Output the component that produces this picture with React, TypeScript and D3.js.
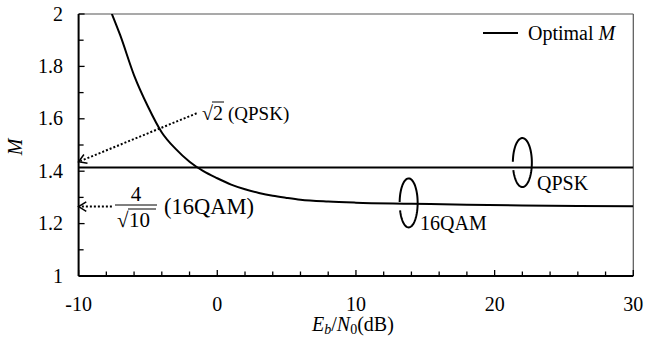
import React from "react";
import * as d3 from "d3";

const ebn0 = [-7.6, -7, -6, -5, -4, -3, -2, -1, 0, 1, 2, 3, 4, 5, 6, 8, 10, 14, 18, 22, 26, 30];
const optimalM = [2.0, 1.919, 1.766, 1.647, 1.548, 1.485, 1.436, 1.4, 1.373, 1.349, 1.331, 1.317, 1.306, 1.298, 1.291, 1.284, 1.28, 1.276, 1.272, 1.269, 1.267, 1.266];
const qpskX = [-10, 30];
const qpskM = [Math.SQRT2, Math.SQRT2];
const xTicks = [-10, 0, 10, 20, 30];
const yTicks = [1, 1.2, 1.4, 1.6, 1.8, 2];
const xMinor = d3.range(-10, 30.01, 2);
const yMinor = d3.range(1, 2.001, 0.1);

const W = 645, H = 338;
const L = 78.6, R = 633.3, T = 14, B = 276;
const FONT = '"Liberation Serif", "Times New Roman", serif';

export default function App() {
  const x = d3.scaleLinear().domain([-10, 30]).range([L, R]);
  const y = d3.scaleLinear().domain([1, 2]).range([B, T]);
  const line = d3.line<[number, number]>().x(d => x(d[0])).y(d => y(d[1])).curve(d3.curveMonotoneX);
  const curvePts = ebn0.map((e, i) => [e, optimalM[i]] as [number, number]);
  const qpskPts = qpskX.map((e, i) => [e, qpskM[i]] as [number, number]);

  const loop = (cxD: number, cyD: number, rx: number, ry: number) => {
    const cx = x(cxD), cy = y(cyD);
    const p = d3.path();
    const a0 = (182 * Math.PI) / 180, a1 = ((360 + 162) * Math.PI) / 180;
    const n = 80;
    for (let i = 0; i <= n; i++) {
      const a = a0 + ((a1 - a0) * i) / n;
      const px = cx + rx * Math.cos(a), py = cy + ry * Math.sin(a);
      if (i === 0) p.moveTo(px, py); else p.lineTo(px, py);
    }
    return p.toString();
  };

  const arrow = (tx: number, ty: number, fx: number, fy: number) => {
    const x1 = x(tx), y1 = y(ty), x0 = x(fx), y0 = y(fy);
    const ang = Math.atan2(y0 - y1, x0 - x1);
    const len = 9, spread = 0.55;
    const h1 = [x1 + len * Math.cos(ang + spread), y1 + len * Math.sin(ang + spread)];
    const h2 = [x1 + len * Math.cos(ang - spread), y1 + len * Math.sin(ang - spread)];
    return (
      <g>
        <line x1={x0} y1={y0} x2={x1 + 2 * Math.cos(ang)} y2={y1 + 2 * Math.sin(ang)} stroke="#000" strokeWidth={2} strokeDasharray="2,2" />
        <path d={`M${h1[0]},${h1[1]}L${x1},${y1}L${h2[0]},${h2[1]}`} fill="none" stroke="#000" strokeWidth={1.5} />
      </g>
    );
  };

  const ts = { fontFamily: FONT };

  return (
    <svg width={W} height={H} style={{ position: "absolute", left: 0, top: 0, background: "#fff", fontFamily: FONT }}>
      <defs>
        <clipPath id="plot"><rect x={L} y={T} width={R - L} height={B - T} /></clipPath>
      </defs>
      {/* frame */}
      <line x1={L} y1={T} x2={R} y2={T} stroke="#555" strokeWidth={1.2} />
      <line x1={R} y1={T} x2={R} y2={B} stroke="#555" strokeWidth={1.2} />
      <line x1={L} y1={T} x2={L} y2={B} stroke="#000" strokeWidth={2} />
      <line x1={L} y1={B} x2={R} y2={B} stroke="#000" strokeWidth={2} />
      {/* ticks */}
      {xMinor.map(v => (
        <line key={"xm" + v} x1={x(v)} x2={x(v)} y1={B} y2={B - (v % 10 === 0 ? 6 : 4.5)} stroke="#000" strokeWidth={1.3} />
      ))}
      {yMinor.map(v => (
        <line key={"ym" + v} x1={L} x2={L + (Math.abs(v * 5 - Math.round(v * 5)) < 1e-6 ? 6 : 5)} y1={y(v)} y2={y(v)} stroke="#000" strokeWidth={1.3} />
      ))}
      {xTicks.map(v => (
        <text key={"xt" + v} style={ts} x={x(v)} y={311} textAnchor="middle" fontSize={20}>{v}</text>
      ))}
      {yTicks.map(v => (
        <text key={"yt" + v} style={ts} x={63} y={y(v) + 6.5} textAnchor="end" fontSize={20}>{v}</text>
      ))}
      {/* axis titles */}
      <text style={ts} x={312} y={331} fontSize={20}>
        <tspan fontStyle="italic">E</tspan>
        <tspan fontStyle="italic" fontSize={14} dy={3}>b</tspan>
        <tspan dy={-3}>/</tspan>
        <tspan fontStyle="italic">N</tspan>
        <tspan fontSize={14} dy={3}>0</tspan>
        <tspan dy={-3}>(dB)</tspan>
      </text>
      <text style={ts} transform={`translate(22,147) rotate(-90)`} textAnchor="middle" fontSize={20} fontStyle="italic">M</text>
      {/* data */}
      <g clipPath="url(#plot)">
        <path d={line(qpskPts) || ""} fill="none" stroke="#000" strokeWidth={2} />
        <path d={line(curvePts) || ""} fill="none" stroke="#000" strokeWidth={2} />
      </g>
      {/* legend */}
      <line x1={483} x2={518} y1={33} y2={33} stroke="#000" strokeWidth={2} />
      <text style={ts} x={528} y={40} fontSize={20}>Optimal <tspan fontStyle="italic">M</tspan></text>
      {/* annotations */}
      {arrow(-10, 1.436, -1.49, 1.621)}
      <text style={ts} x={202} y={120} fontSize={20}>√</text>
      <line x1={212} x2={224} y1={102} y2={102} stroke="#000" strokeWidth={1} />
      <text style={ts} x={213} y={120} fontSize={20}>2</text>
      <text style={ts} x={228} y={120} fontSize={19}>(QPSK)</text>
      {arrow(-10, 4 / Math.sqrt(10), -7.6, 4 / Math.sqrt(10))}
      <text style={ts} x={136} y={201} textAnchor="middle" fontSize={21}>4</text>
      <line x1={115} x2={157} y1={205} y2={205} stroke="#000" strokeWidth={1} />
      <text style={ts} x={117} y={227} fontSize={21}>√</text>
      <line x1={128} x2={156} y1={209} y2={209} stroke="#000" strokeWidth={1} />
      <text style={ts} x={129} y={227} fontSize={21}>10</text>
      <text style={ts} x={164} y={214} fontSize={22.5}>(16QAM)</text>
      {/* loops */}
      <path d={loop(22, 1.433, 9.5, 24.5)} fill="none" stroke="#000" strokeWidth={2} />
      <text style={ts} x={537} y={190} fontSize={20}>QPSK</text>
      <path d={loop(13.8, 1.279, 9, 24.5)} fill="none" stroke="#000" strokeWidth={2} />
      <text style={ts} x={420} y={230} fontSize={20}>16QAM</text>
    </svg>
  );
}
